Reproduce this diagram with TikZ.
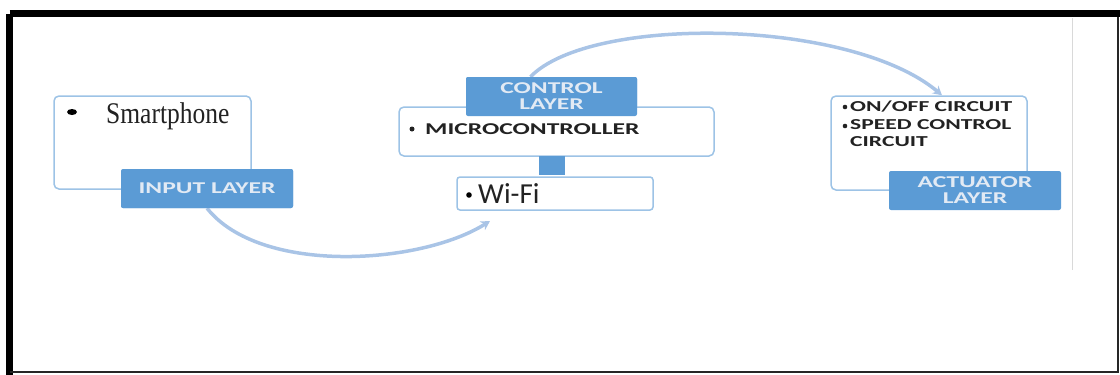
\documentclass[tikz,border=0pt]{standalone}
\usepackage{fontspec}
\setmainfont{Liberation Serif}
\newfontfamily\capsfont[FakeStretch=1.55]{Carlito}
\newfontfamily\calfont{Carlito}
\newfontfamily\serifnarrow[FakeStretch=0.85]{Liberation Serif}
\usetikzlibrary{arrows.meta}
\definecolor{labblue}{HTML}{5B9BD5}
\definecolor{boxblue}{HTML}{9DC3E6}
\definecolor{arrblue}{HTML}{A9C4E6}
\definecolor{labtext}{HTML}{E2EAF4}
\definecolor{txtdark}{HTML}{222222}
\tikzset{
  contentbox/.style={draw=boxblue, line width=1.5pt, fill=white, rounded corners=5pt, inner sep=0pt},
  layerlabel/.style={fill=labblue, rounded corners=2pt, inner sep=0pt, text=labtext, align=center,
     font=\capsfont\bfseries\fontsize{16.5}{16}\selectfont},
  itemtext/.style={inner sep=0pt, anchor=west, text=txtdark},
  flow/.style={draw=arrblue, line width=3.5pt, -{Stealth[length=9pt,width=10pt]}},
}
\begin{document}
\begin{tikzpicture}[x=1pt,y=-1pt]
\useasboundingbox (0,0) rectangle (1120,375);
% frame
\coordinate (ftl) at (9.5,13.5);
\coordinate (ftr) at (1120,13.5);
\coordinate (fbl) at (9.5,375);
\coordinate (fbr) at (1118,372);
\coordinate (fbl2) at (9.5,372);
\coordinate (ftr2) at (1118,17);
\draw[line width=7pt] (ftl) -- (ftr);
\draw[line width=7pt] (ftl) -- (fbl);
\draw[line width=2pt, black!85] (fbl2) -- (fbr) -- (ftr2);
% faint vertical line
\coordinate (vt) at (1072,18);
\coordinate (vb) at (1072,270);
\draw[line width=1pt, black!15] (vt) -- (vb);

% arrows (drawn first, under the boxes)
\node[layerlabel, minimum width=172pt, minimum height=39pt] (inlab) at (207,188.5) {};
\node[layerlabel, minimum width=171pt, minimum height=39pt] (ctrllab) at (551.5,96.5) {};
\coordinate (a1end) at (490,221);
\draw[flow] (inlab.south) .. controls (260,275) and (420,265) .. (a1end);
\node[contentbox, minimum width=196pt, minimum height=94pt] (actbox) at (929,143) {};
\draw[flow] ([xshift=-21pt]ctrllab.north) .. controls (590,15) and (850,18) .. ([xshift=13pt]actbox.north);

% input layer
\node[contentbox, minimum width=197pt, minimum height=93pt] (smbox) at (152.5,142.5) {};
\fill[black] (72,112) ellipse (5pt and 3pt);
\node[itemtext] (smtxt) at (106,116) {\serifnarrow\fontsize{30}{32}\selectfont Smartphone};
\node[layerlabel, minimum width=172pt, minimum height=39pt] (inlab2) at (207,188.5) {INPUT LAYER};

% control layer
\node[contentbox, minimum width=315pt, minimum height=49pt] (mcbox) at (556.5,131.5) {};
\fill[txtdark] (412,129) circle (2.5pt);
\node[itemtext] (mctxt) at (425,129) {\capsfont\bfseries\fontsize{16.5}{17}\selectfont MICROCONTROLLER};
\node[fill=labblue, minimum width=26pt, minimum height=19pt, inner sep=0pt] (conn) at (552,165.5) {};
\node[contentbox, rounded corners=3pt, minimum width=196pt, minimum height=33pt] (wifibox) at (555,193.5) {};
\fill[black] (469,195) circle (2.8pt);
\node[itemtext] (wifitxt) at (478,194) {\calfont\fontsize{29}{30}\selectfont Wi-Fi};
\node[layerlabel, minimum width=171pt, minimum height=39pt] (ctrllab2) at (551.5,96.5) {CONTROL\\LAYER};

% actuator layer
\fill[txtdark] (845,107) circle (2.3pt);
\fill[txtdark] (845,126) circle (2.3pt);
\node[itemtext, align=left, anchor=north west, font=\capsfont\bfseries\fontsize{15.2}{17.5}\selectfont] (acttxt) at (850,101)
  {ON/OFF CIRCUIT\\SPEED CONTROL\\CIRCUIT};
\node[layerlabel, minimum width=172pt, minimum height=39pt] (actlab) at (975,190.5) {ACTUATOR\\LAYER};
\end{tikzpicture}
\end{document}
